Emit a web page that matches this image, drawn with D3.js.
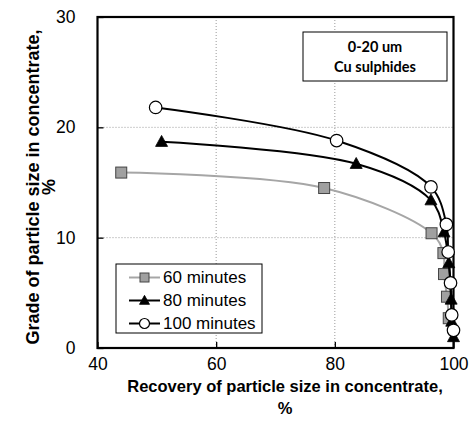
<!DOCTYPE html>
<html><head><meta charset="utf-8">
<script src="https://cdn.jsdelivr.net/npm/d3@7"></script>
<style>body{margin:0;background:#fff}svg{display:block}</style>
</head><body>
<svg id="chart" width="469" height="433"></svg>
<script>
const seriesNames = ["60 minutes", "80 minutes", "100 minutes"];
const recovery60 = [44.0, 78.2, 96.3, 98.3, 98.4, 98.9, 99.2];
const grade60 = [15.9, 14.5, 10.4, 8.6, 6.7, 4.65, 2.7];
const recovery80 = [50.8, 83.6, 96.2, 98.4, 99.2, 99.6, 99.7, 100.0];
const grade80 = [18.7, 16.7, 13.4, 10.5, 7.7, 4.4, 2.4, 1.0];
const recovery100 = [49.8, 80.3, 96.2, 98.8, 99.1, 99.5, 99.7, 100.0];
const grade100 = [21.8, 18.8, 14.6, 11.2, 8.7, 5.9, 3.0, 1.6];
const xTicks = [40, 60, 80, 100];
const yTicks = [0, 10, 20, 30];
const xTitle = "Recovery of particle size in concentrate,";
const yTitle = "Grade of particle size in concentrate,";
const unitLabel = "%";
const boxLines = ["0-20 um", "Cu sulphides"];

const svg = d3.select("#chart");
const L = 97.5, R = 453.5, T = 17, B = 348;
const x = d3.scaleLinear().domain([40, 100]).range([L, R]);
const y = d3.scaleLinear().domain([0, 30]).range([B, T]);
const font = "'Liberation Sans', Arial, sans-serif";

// gridlines
const g = svg.append("g");
g.selectAll(".gx").data(xTicks.filter(d => d > 40 && d < 100)).enter().append("line")
  .attr("x1", d => x(d)).attr("x2", d => x(d)).attr("y1", T).attr("y2", B)
  .attr("stroke", "#9a9a9a").attr("stroke-width", 1).attr("stroke-dasharray", "1,2");
g.selectAll(".gy").data(yTicks.filter(d => d > 0 && d < 30)).enter().append("line")
  .attr("x1", L).attr("x2", R).attr("y1", d => y(d)).attr("y2", d => y(d))
  .attr("stroke", "#9a9a9a").attr("stroke-width", 1).attr("stroke-dasharray", "1,2");

// axes (ticks inward)
const xAxis = d3.axisBottom(x).tickValues(xTicks).tickSize(-6).tickFormat(d3.format("d")).tickPadding(10);
const yAxis = d3.axisLeft(y).tickValues(yTicks).tickSize(-6).tickFormat(d3.format("d")).tickPadding(22);
const gx = svg.append("g").attr("transform", `translate(0,${B})`).call(xAxis);
const gy = svg.append("g").attr("transform", `translate(${L},0)`).call(yAxis);
[gx, gy].forEach(a => {
  a.select(".domain").remove();
  a.selectAll(".tick line").attr("stroke", "#000").attr("stroke-width", 1.3);
  a.selectAll(".tick text").attr("font-family", font).attr("font-size", 17.5).attr("fill", "#000");
});
gx.selectAll(".tick text").attr("dy", "0.71em");
// frame
svg.append("rect").attr("x", L).attr("y", T).attr("width", R - L).attr("height", B - T)
  .attr("fill", "none").attr("stroke", "#000").attr("stroke-width", 2.2);

// text box
svg.append("rect").attr("x", 303).attr("y", 32).attr("width", 144).attr("height", 49)
  .attr("fill", "#fff").attr("stroke", "#000").attr("stroke-width", 1);
svg.append("g").selectAll("text").data(boxLines).enter().append("text")
  .attr("x", 375).attr("y", (d, i) => 52 + i * 20).attr("text-anchor", "middle")
  .attr("font-family", "Lato, 'Open Sans', sans-serif").attr("font-weight", "bold").attr("font-size", 14.5)
  .text(d => d);

// series
const series = [
  {name: seriesNames[0], xs: recovery60, ys: grade60, color: "#a6a6a6", marker: "square"},
  {name: seriesNames[1], xs: recovery80, ys: grade80, color: "#000", marker: "triangle"},
  {name: seriesNames[2], xs: recovery100, ys: grade100, color: "#000", marker: "circle"}
];
const line = d3.line().x(d => x(d[0])).y(d => y(d[1])).curve(d3.curveCatmullRom.alpha(0.5));

function drawMarker(sel, type, cx, cy, s) {
  if (type === "square") {
    sel.append("rect").attr("x", cx - s / 2).attr("y", cy - s / 2).attr("width", s).attr("height", s)
      .attr("fill", "#a0a0a0").attr("stroke", "#444").attr("stroke-width", 1);
  } else if (type === "triangle") {
    const h = s * 0.95;
    sel.append("path").attr("d", `M${cx},${cy - h * 0.6}L${cx + s / 2 + 0.5},${cy + h * 0.45}L${cx - s / 2 - 0.5},${cy + h * 0.45}Z`)
      .attr("fill", "#000").attr("stroke", "#000").attr("stroke-width", 0.8);
  } else {
    sel.append("circle").attr("cx", cx).attr("cy", cy).attr("r", s / 2)
      .attr("fill", "#fff").attr("stroke", "#000").attr("stroke-width", 1.2);
  }
}

series.forEach(s => {
  const pts = s.xs.map((v, i) => [v, s.ys[i]]);
  svg.append("path").attr("d", line(pts)).attr("fill", "none")
    .attr("stroke", s.color).attr("stroke-width", 2);
  const mg = svg.append("g");
  pts.forEach(p => drawMarker(mg, s.marker, x(p[0]), y(p[1]), s.marker === "circle" ? 12.5 : 11));
});

// legend
const lg = svg.append("g");
lg.append("rect").attr("x", 116).attr("y", 264).attr("width", 146).attr("height", 69)
  .attr("fill", "#fff").attr("stroke", "#000").attr("stroke-width", 1);
series.forEach((s, i) => {
  const cy = 277.5 + i * 23;
  lg.append("line").attr("x1", 129).attr("x2", 160).attr("y1", cy).attr("y2", cy)
    .attr("stroke", s.color).attr("stroke-width", 2);
  drawMarker(lg, s.marker, 144.5, cy, s.marker === "circle" ? 10 : 9);
  lg.append("text").attr("x", 163).attr("y", cy).attr("dy", "0.35em")
    .attr("font-family", font).attr("font-size", 17).text(s.name);
});

// axis titles
const xt = svg.append("text").attr("text-anchor", "middle").attr("font-family", font)
  .attr("font-weight", "bold").attr("font-size", 16.5);
xt.append("tspan").attr("x", 285).attr("y", 392).text(xTitle);
xt.append("tspan").attr("x", 285).attr("y", 414).text(unitLabel);
const yt = svg.append("text").attr("text-anchor", "middle").attr("font-family", font)
  .attr("font-weight", "bold").attr("font-size", 18)
  .attr("transform", "translate(0,187) rotate(-90)");
yt.append("tspan").attr("x", 0).attr("y", 39).text(yTitle);
yt.append("tspan").attr("x", 0).attr("y", 55).text(unitLabel);
</script>
</body></html>
